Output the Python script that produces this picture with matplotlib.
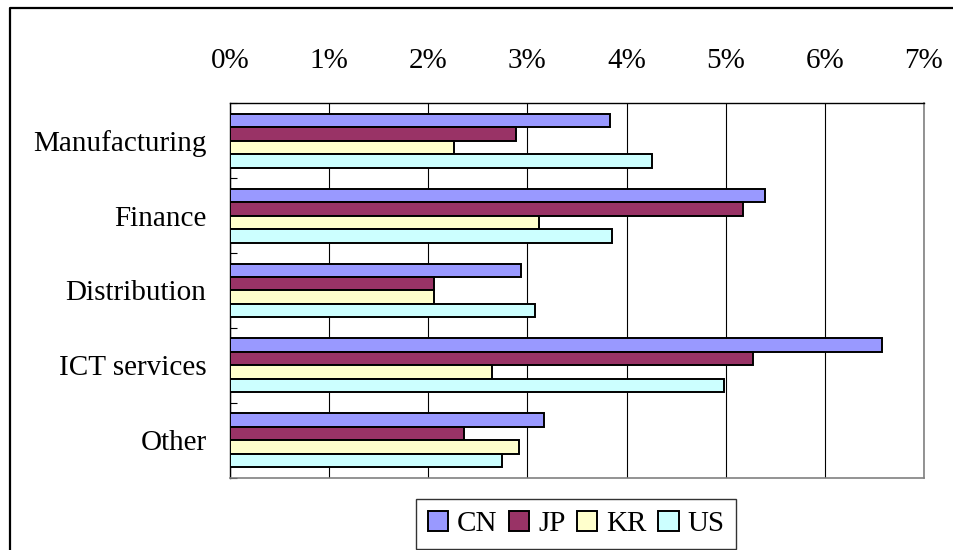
import matplotlib
matplotlib.use("Agg")
import matplotlib.pyplot as plt
import numpy as np
from matplotlib.lines import Line2D
from matplotlib.ticker import FuncFormatter, MultipleLocator

categories = ["Manufacturing", "Finance", "Distribution", "ICT services", "Other"]
series_names = ["CN", "JP", "KR", "US"]
cn = [3.83, 5.40, 2.94, 6.58, 3.17]
jp = [2.88, 5.17, 2.06, 5.28, 2.36]
kr = [2.26, 3.12, 2.06, 2.64, 2.91]
us = [4.26, 3.85, 3.08, 4.98, 2.74]
colors = ["#9999FF", "#993366", "#FFFFCC", "#CCFFFF"]

plt.rcParams['font.family'] = ['Liberation Serif', 'DejaVu Serif']

fig = plt.figure(figsize=(9.54, 5.5), dpi=100)
ax = fig.add_axes([230/954, 1-477.7/550, (924-230)/954, (477.7-103.3)/550])

y = np.arange(len(categories))
h = 0.18
for j, (vals, c, name) in enumerate(zip([cn, jp, kr, us], colors, series_names)):
    ax.barh(y + (j - 1.5) * h, vals, height=h, color=c, edgecolor='black',
            linewidth=1.4, label=name, zorder=3)

ax.set_xlim(0, 7)
ax.set_ylim(len(categories) - 0.5, -0.5)
ax.xaxis.set_major_locator(MultipleLocator(1))
ax.xaxis.set_major_formatter(FuncFormatter(lambda v, p: f"{int(round(v))}%"))
ax.xaxis.tick_top()
ax.grid(axis='x', color='black', linewidth=0.8, zorder=0)
ax.set_axisbelow(True)

ax.set_yticks(y)
ax.set_yticklabels(categories)
ax.set_yticks(np.arange(len(categories) + 1) - 0.5, minor=True)
ax.tick_params(axis='y', which='major', length=0, pad=17, labelsize=21)
ax.tick_params(axis='y', which='minor', direction='in', length=5, width=0.8)
ax.tick_params(axis='x', which='major', direction='in', length=0, pad=21, labelsize=21)

ax.spines['left'].set_color('black')
ax.spines['top'].set_color('black')
ax.spines['left'].set_linewidth(1.0)
ax.spines['top'].set_linewidth(1.0)
ax.spines['right'].set_color('#808080')
ax.spines['bottom'].set_color('#808080')
ax.spines['right'].set_linewidth(1.2)
ax.spines['bottom'].set_linewidth(1.2)

leg = fig.legend(loc='center', bbox_to_anchor=(576/954, 1-524/550), ncol=4,
                 fontsize=21, frameon=True, fancybox=False, handlelength=0.7,
                 handleheight=0.7, handletextpad=0.3, columnspacing=0.4,
                 borderpad=0.4)
leg.get_frame().set_edgecolor('black')
leg.get_frame().set_linewidth(1.0)

# outer chart border (left and top visible)
fig.add_artist(Line2D([10/954, 10/954, 1.0], [0.0, 1-7.5/550, 1-7.5/550],
                      transform=fig.transFigure, color='black', linewidth=1.6))

fig.savefig("out.png", dpi=100)
